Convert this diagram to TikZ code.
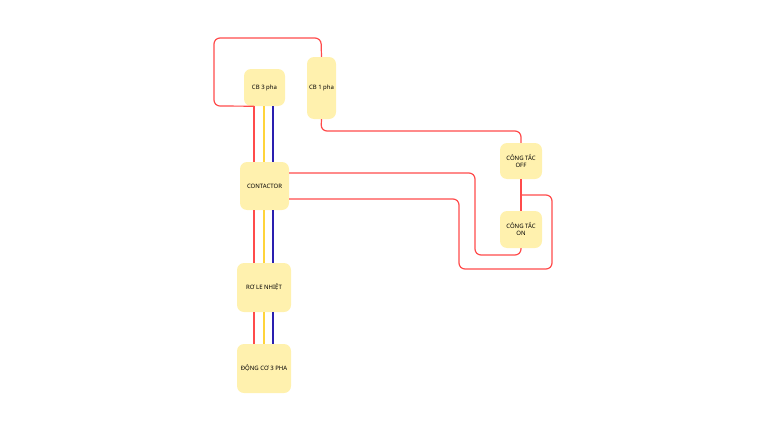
\documentclass[tikz,border=0pt]{standalone}
\usepackage{fontspec}
\setmainfont{Noto Sans}
\usetikzlibrary{positioning}
\definecolor{box_fill}{HTML}{FFF1AE}
\definecolor{wire_red}{HTML}{FF4B4B}
\definecolor{wire_yellow}{HTML}{FFD43B}
\definecolor{wire_blue}{HTML}{2A1FB0}
\tikzset{
  part/.style={fill=box_fill, rounded corners=7pt, inner sep=0pt, align=center, font=\fontsize{6}{7}\selectfont},
  red wire/.style={draw=wire_red, line width=1.2pt, rounded corners=6pt},
  yellow wire/.style={draw=wire_yellow, line width=1.2pt},
  blue wire/.style={draw=wire_blue, line width=1.2pt}
}
\begin{document}
\begin{tikzpicture}[x=1pt, y=-1pt]
            \useasboundingbox (0,0) rectangle (768,431);
            % parts
            \node[part, minimum width=41pt, minimum height=37pt] (cb3) at (264.5,87.5) {CB 3 pha};
            \node[part, minimum width=29pt, minimum height=62pt] (cb1) at (321.5,88) {CB 1 pha};
            \node[part, minimum width=49pt, minimum height=48pt] (contactor) at (264.5,186) {CONTACTOR};
            \node[part, minimum width=54pt, minimum height=49pt] (rele) at (264,287.5) {RƠ LE NHIỆT};
            \node[part, minimum width=54pt, minimum height=49pt] (motor) at (264,368.5) {ĐỘNG CƠ 3 PHA};
            \node[part, minimum width=42pt, minimum height=36pt] (off) at (521,161) {CÔNG TẮC\\OFF};
            \node[part, minimum width=42pt, minimum height=37pt] (on) at (521,229.5) {CÔNG TẮC\\ON};

            % three phase lines
            \foreach \a/\b in {cb3/contactor, contactor/rele, rele/motor} {
                \draw[red wire, rounded corners=0pt] (\a.south -| 254,0) -- (\b.north -| 254,0);
                \draw[yellow wire] (\a.south -| 264,0) -- (\b.north -| 264,0);
                \draw[blue wire] (\a.south -| 273,0) -- (\b.north -| 273,0);
            }

            % control circuit
            \draw[red wire] (cb3.south -| 254,0) -- (214,106) -- (214,38) -- (321,38) -- (cb1.north);
            \draw[red wire] (cb1.south) -- (321,131) -- (521,131) -- (off.north);
            \draw[red wire] (off.south) -- (on.north);
            \coordinate (branch) at (521,195);
            \draw[red wire] (branch) -- (552,195) -- (552,269) -- (459,269) -- (459,199) -- (contactor.east |- 0,199);
            \draw[red wire] (contactor.east |- 0,173) -- (475,173) -- (475,255) -- (521,255) -- (on.south);
\end{tikzpicture}
\end{document}
